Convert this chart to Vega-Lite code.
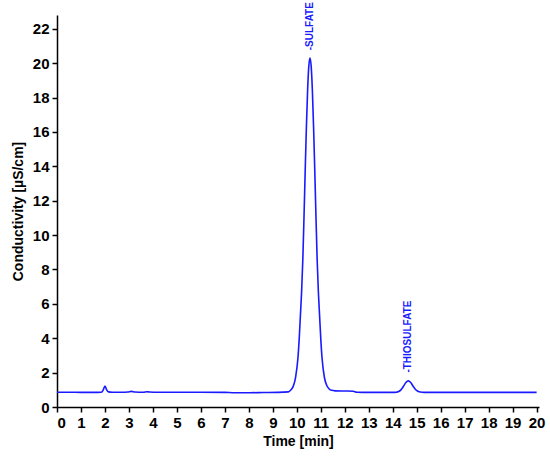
{
  "$schema": "https://vega.github.io/schema/vega-lite/v6.json",
  "width": 482,
  "height": 392,
  "autosize": {"type": "none"},
  "padding": {"left": 57, "top": 15, "right": 11, "bottom": 50},
  "background": "white",
  "datasets": {
    "trace": [
      {"t": 0, "v": 0.86}, {"t": 0.5, "v": 0.86}, {"t": 1.0, "v": 0.85}, {"t": 1.5, "v": 0.85},
      {"t": 1.85, "v": 0.86}, {"t": 1.93, "v": 1.0}, {"t": 2.0, "v": 1.22}, {"t": 2.07, "v": 1.0},
      {"t": 2.15, "v": 0.88}, {"t": 2.3, "v": 0.86}, {"t": 2.7, "v": 0.86}, {"t": 2.95, "v": 0.87},
      {"t": 3.1, "v": 0.91}, {"t": 3.25, "v": 0.87}, {"t": 3.6, "v": 0.86}, {"t": 3.75, "v": 0.89},
      {"t": 3.85, "v": 0.87}, {"t": 4.2, "v": 0.86}, {"t": 5.0, "v": 0.86}, {"t": 6.0, "v": 0.86},
      {"t": 7.0, "v": 0.85}, {"t": 7.4, "v": 0.83}, {"t": 8.0, "v": 0.83}, {"t": 8.6, "v": 0.84},
      {"t": 9.2, "v": 0.85}, {"t": 9.65, "v": 0.88}, {"t": 9.75, "v": 0.99}, {"t": 9.85, "v": 1.2},
      {"t": 9.95, "v": 1.73}, {"t": 10.05, "v": 2.89}, {"t": 10.1, "v": 3.96}, {"t": 10.15, "v": 5.32},
      {"t": 10.2, "v": 6.69}, {"t": 10.25, "v": 8.53}, {"t": 10.3, "v": 11.04}, {"t": 10.35, "v": 13.73},
      {"t": 10.4, "v": 16.27}, {"t": 10.45, "v": 18.39}, {"t": 10.5, "v": 19.81}, {"t": 10.55, "v": 20.3},
      {"t": 10.6, "v": 19.81}, {"t": 10.65, "v": 18.39}, {"t": 10.7, "v": 16.27}, {"t": 10.75, "v": 13.73},
      {"t": 10.8, "v": 11.04}, {"t": 10.85, "v": 8.53}, {"t": 10.9, "v": 6.69}, {"t": 10.95, "v": 5.32},
      {"t": 11.0, "v": 3.96}, {"t": 11.05, "v": 2.89}, {"t": 11.15, "v": 1.73}, {"t": 11.25, "v": 1.25},
      {"t": 11.35, "v": 1.05}, {"t": 11.45, "v": 0.97}, {"t": 11.6, "v": 0.94}, {"t": 12.0, "v": 0.93},
      {"t": 12.35, "v": 0.92}, {"t": 12.5, "v": 0.86}, {"t": 13.0, "v": 0.85}, {"t": 13.6, "v": 0.85},
      {"t": 14.05, "v": 0.85}, {"t": 14.15, "v": 0.86}, {"t": 14.25, "v": 0.9}, {"t": 14.35, "v": 1.01},
      {"t": 14.45, "v": 1.21}, {"t": 14.55, "v": 1.42}, {"t": 14.65, "v": 1.52}, {"t": 14.75, "v": 1.42},
      {"t": 14.85, "v": 1.21}, {"t": 14.95, "v": 1.02}, {"t": 15.05, "v": 0.92}, {"t": 15.15, "v": 0.87},
      {"t": 15.3, "v": 0.85}, {"t": 16.0, "v": 0.85}, {"t": 17.0, "v": 0.85}, {"t": 18.0, "v": 0.85},
      {"t": 19.0, "v": 0.85}, {"t": 20.0, "v": 0.85}
    ],
    "peaks": [
      {"t": 10.55, "v": 20.75, "name": "-SULFATE"},
      {"t": 14.65, "v": 2.0, "name": "-THIOSULFATE"}
    ]
  },
  "encoding": {
    "x": {
      "field": "t",
      "type": "quantitative",
      "title": "Time [min]",
      "scale": {"domain": [0, 20.1], "nice": false, "zero": false},
      "axis": {"values": [0, 1, 2, 3, 4, 5, 6, 7, 8, 9, 10, 11, 12, 13, 14, 15, 16, 17, 18, 19, 20], "titlePadding": 4}
    },
    "y": {
      "field": "v",
      "type": "quantitative",
      "title": "Conductivity [µS/cm]",
      "scale": {"domain": [0, 22.8], "nice": false},
      "axis": {"values": [0, 2, 4, 6, 8, 10, 12, 14, 16, 18, 20, 22], "titlePadding": 7}
    }
  },
  "layer": [
    {
      "data": {"name": "trace"},
      "mark": {"type": "line", "color": "#1a1aff", "strokeWidth": 1.6, "interpolate": "monotone"}
    },
    {
      "data": {"name": "peaks"},
      "mark": {
        "type": "text",
        "angle": 270,
        "align": "left",
        "baseline": "middle",
        "font": "Liberation Sans",
        "fontWeight": "bold",
        "fontSize": 10,
        "color": "#1a1aff"
      },
      "encoding": {"text": {"field": "name"}}
    }
  ],
  "config": {
    "view": {"stroke": null},
    "axis": {
      "grid": false,
      "domainColor": "black",
      "domainWidth": 1.5,
      "tickColor": "black",
      "tickWidth": 1.5,
      "tickSize": 5,
      "labelFont": "Liberation Sans",
      "labelFontWeight": "bold",
      "labelFontSize": 15,
      "labelColor": "black",
      "labelPadding": 3,
      "titleFont": "Liberation Sans",
      "titleFontWeight": "bold",
      "titleFontSize": 14,
      "titleColor": "black"
    }
  }
}
